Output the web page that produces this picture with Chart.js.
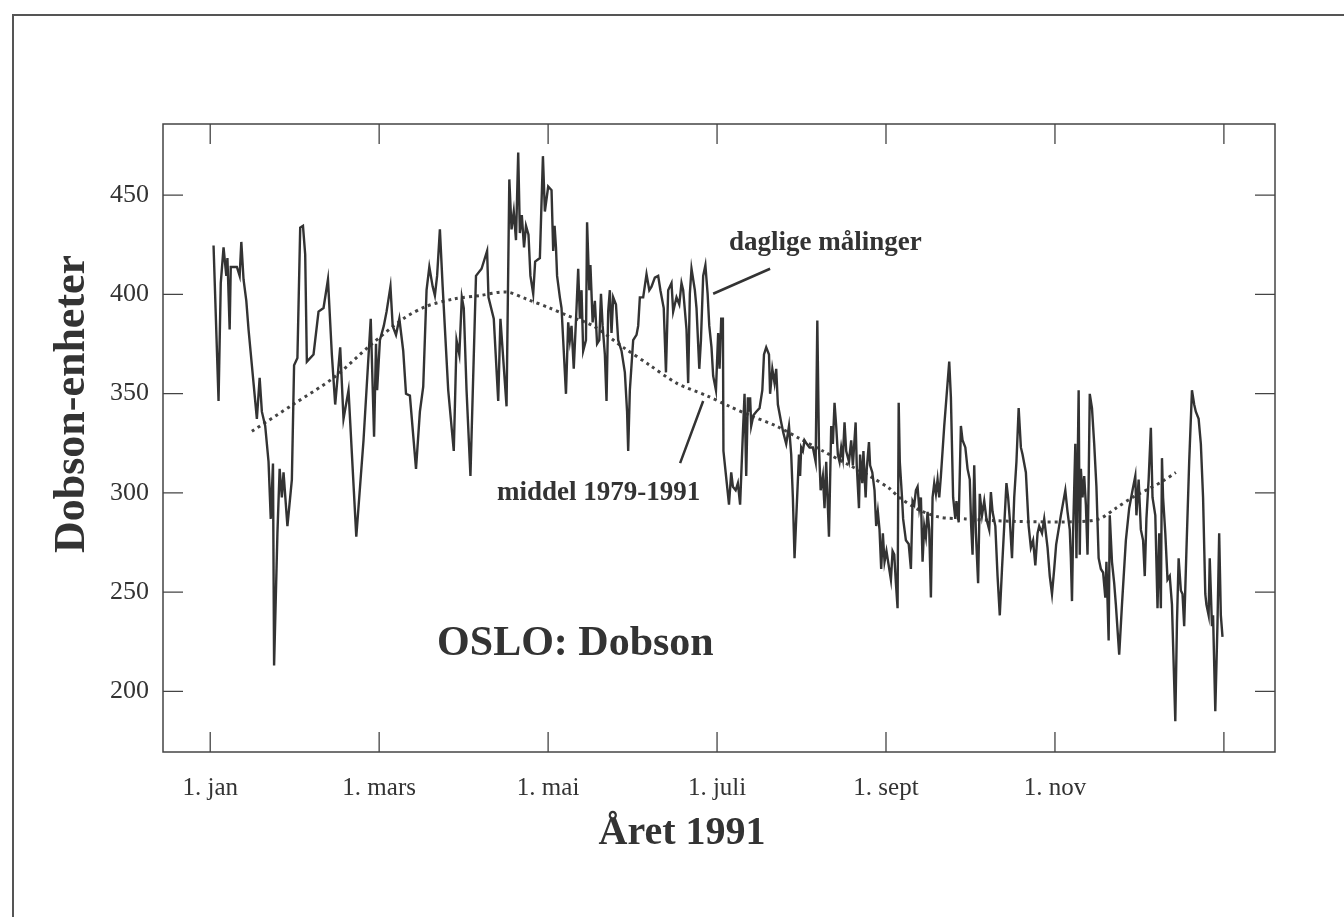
<!DOCTYPE html>
<html>
<head>
<meta charset="utf-8">
<script src="https://cdn.jsdelivr.net/npm/chart.js@4.4.1/dist/chart.umd.min.js"></script>
<style>
    body { margin: 0; background: #fff; }
    #frame { position: absolute; left: 12px; top: 14px; width: 1400px; height: 1000px;
             border-left: 2px solid #555; border-top: 2px solid #555; }
    #ozone { position: absolute; left: 0; top: 0; }
</style>
</head>
<body>
<div id="frame"></div>
<canvas id="ozone" width="1344" height="917"></canvas>
<script>
// day of year (0 = 1. jan) and daily Dobson values
const dailyDays = [
    1.2, 3.0, 3.8, 4.8, 5.8, 6.2, 7.0, 7.4, 9.6, 10.6, 11.2, 12.0, 13.0, 13.8, 15.6, 16.8, 17.8, 18.6, 19.8, 21.0,
    21.8, 22.6, 23.0, 24.2, 25.0, 25.8, 26.4, 27.8, 29.4, 30.2, 31.4, 32.4, 33.4, 34.2, 34.8, 37.2, 39.0, 40.8, 42.4, 43.8,
    45.0, 46.8, 48.0, 49.8, 52.6, 55.2, 57.8, 59.0, 59.7, 60.1, 61.1, 62.5, 63.5, 64.9, 65.7, 66.9, 68.1, 69.5, 70.5, 71.9,
    74.1, 75.5, 76.7, 77.9, 78.9, 80.1, 80.9, 81.7, 82.7, 83.7, 85.7, 87.7, 88.7, 89.7, 90.6, 91.3, 92.3, 93.7, 95.7, 97.7,
    99.7, 100.2, 102.1, 103.7, 104.5, 106.7, 107.7, 108.5, 109.3, 110.1, 110.9, 111.5, 112.2, 113.0, 113.7, 114.6, 115.3, 116.3, 117.0, 118.7,
    119.8, 120.5, 121.7, 122.9, 123.5, 124.0, 124.5, 124.9, 125.9, 126.5, 127.1, 128.1, 128.9, 129.5, 130.1, 130.9, 131.9, 132.5, 133.1, 133.7,
    134.3, 135.3, 135.7, 136.5, 136.9, 137.7, 138.5, 139.3, 140.1, 140.7, 141.3, 142.1, 142.7, 143.3, 143.9, 144.5, 145.1, 146.1, 146.9, 148.1,
    149.3, 150.1, 150.5, 151.1, 152.3, 153.5, 154.1, 154.7, 155.9, 157.1, 158.1, 158.9, 160.1, 161.3, 162.1, 163.3, 164.1, 164.9, 166.1, 166.7,
    167.9, 168.9, 169.7, 170.3, 171.5, 172.1, 172.7, 173.3, 174.5, 175.1, 176.1, 176.7, 177.5, 178.3, 179.1, 179.7, 180.5, 181.1, 182.1, 182.9,
    183.4, 184.0, 184.6, 184.8, 186.0, 186.8, 187.6, 188.2, 189.2, 190.0, 190.8, 191.8, 192.4, 193.0, 193.6, 194.0, 194.4, 194.8, 195.6, 196.6,
    197.8, 198.8, 199.4, 200.2, 201.2, 201.6, 202.4, 203.2, 203.8, 204.4, 205.6, 206.4, 207.4, 208.4, 209.2, 209.8, 210.4, 211.0, 212.0, 212.4,
    212.8, 213.4, 214.0, 214.8, 215.8, 217.0, 218.0, 218.6, 219.2, 219.8, 220.6, 221.2, 221.8, 222.8, 223.6, 224.2, 224.8, 225.4, 226.0, 226.6,
    227.2, 227.8, 228.4, 229.0, 230.0, 230.8, 231.4, 232.4, 232.8, 233.6, 234.0, 234.8, 235.2, 236.0, 236.4, 237.2, 237.6, 238.4, 239.2, 239.8,
    240.4, 241.0, 241.6, 242.2, 242.8, 243.5, 245.1, 245.7, 246.3, 246.9, 247.5, 247.9, 248.3, 249.1, 249.5, 250.5, 251.5, 252.3, 252.9, 253.5,
    254.1, 254.7, 255.3, 255.9, 256.5, 257.1, 257.7, 258.3, 258.9, 259.5, 260.1, 260.7, 261.3, 261.9, 262.5, 263.1, 264.3, 265.1, 266.1, 266.7,
    267.5, 268.3, 268.7, 269.5, 270.3, 270.9, 271.9, 272.7, 273.5, 274.0, 274.5, 275.1, 275.7, 276.5, 277.1, 277.9, 278.7, 279.5, 280.5, 281.1,
    281.7, 282.7, 283.5, 284.3, 285.1, 285.9, 286.7, 287.3, 287.9, 288.7, 289.5, 290.3, 291.1, 291.9, 292.5, 293.7, 294.7, 295.5, 296.3, 297.1,
    297.9, 298.5, 299.5, 300.3, 301.5, 302.3, 303.1, 303.9, 304.6, 306.3, 307.9, 308.7, 309.5, 309.9, 310.3, 310.7, 311.5, 311.9, 312.7, 313.1,
    313.5, 314.1, 314.7, 315.3, 315.9, 316.3, 316.7, 317.5, 318.3, 319.1, 319.9, 320.7, 321.5, 322.3, 322.7, 323.5, 323.9, 324.7, 325.5, 326.1,
    327.3, 328.3, 329.7, 330.9, 332.1, 333.1, 333.5, 334.3, 335.1, 335.9, 336.5, 337.1, 337.9, 338.7, 339.3, 340.3, 341.1, 341.7, 342.3, 342.7,
    343.1, 343.9, 344.7, 345.5, 346.3, 346.7, 347.5, 348.1, 348.7, 349.5, 350.1, 350.7, 351.5, 352.5, 353.5, 354.3, 354.9, 355.9, 356.7, 357.5,
    358.3, 358.7, 359.5, 359.9, 360.7, 361.1, 361.9, 362.7, 363.3, 363.9, 364.5
];
const dailyValues = [
    424.6, 346.3, 405.7, 423.7, 409.3, 418.3, 382.3, 413.8, 413.8, 409.3, 426.4, 407.5, 396.7, 382.3, 355.3, 337.3, 358.0, 340.9, 333.7, 315.7,
    286.9, 314.8, 213.1, 279.7, 312.1, 297.7, 310.3, 283.3, 306.7, 364.3, 367.9, 433.6, 434.5, 420.1, 366.1, 369.7, 391.3, 393.1, 407.5, 369.7,
    344.5, 373.3, 337.3, 351.7, 277.9, 326.5, 387.7, 328.3, 375.1, 351.7, 376.9, 384.1, 391.3, 403.9, 384.1, 379.6, 387.7, 371.5, 349.9, 349.0,
    312.1, 340.9, 353.5, 402.1, 413.8, 403.9, 399.4, 409.3, 432.7, 403.9, 351.7, 321.1, 376.9, 369.7, 398.5, 393.1, 351.7, 308.5, 409.3, 412.9,
    421.9, 398.5, 387.7, 346.3, 387.7, 343.6, 457.9, 432.7, 441.7, 427.3, 471.4, 430.9, 439.9, 423.7, 434.5, 430.0, 409.3, 400.3, 416.5, 418.3,
    469.6, 441.7, 454.3, 452.5, 421.9, 434.5, 423.7, 409.3, 398.5, 393.1, 376.9, 349.9, 385.9, 376.9, 384.1, 362.5, 393.1, 412.9, 387.7, 402.1,
    371.5, 376.9, 436.3, 402.1, 414.7, 385.9, 396.7, 375.1, 376.9, 400.3, 384.1, 369.7, 346.3, 391.3, 402.1, 380.5, 398.5, 394.9, 376.9, 371.5,
    360.7, 340.9, 321.1, 351.7, 376.9, 379.6, 384.1, 398.5, 398.5, 410.2, 402.1, 403.9, 408.4, 409.3, 402.1, 393.1, 360.7, 402.1, 405.7, 391.3,
    398.5, 394.9, 405.7, 402.1, 382.3, 355.3, 400.3, 412.9, 402.1, 393.1, 362.5, 376.9, 409.3, 414.7, 400.3, 384.1, 373.3, 358.9, 351.7, 380.5,
    362.5, 387.7, 387.7, 321.1, 304.9, 294.1, 310.3, 303.1, 301.3, 304.9, 294.1, 330.1, 349.9, 308.5, 348.1, 340.9, 348.1, 333.7, 339.1, 340.9,
    342.7, 351.7, 369.7, 373.3, 369.7, 349.9, 362.5, 355.3, 362.5, 344.5, 335.5, 330.1, 324.7, 333.7, 319.3, 297.7, 267.1, 286.9, 319.3, 308.5,
    322.9, 321.1, 326.5, 324.7, 322.9, 322.9, 315.7, 386.8, 322.9, 301.3, 308.5, 292.3, 315.7, 277.9, 333.7, 324.7, 345.4, 333.7, 319.3, 315.7,
    322.9, 317.5, 335.5, 321.1, 315.7, 326.5, 313.9, 335.5, 313.9, 292.3, 319.3, 304.9, 321.1, 297.7, 312.1, 325.6, 313.9, 310.3, 301.3, 283.3,
    290.5, 281.5, 261.7, 279.7, 265.3, 270.7, 256.3, 270.7, 268.9, 254.5, 241.9, 345.4, 315.7, 297.7, 286.9, 276.1, 274.3, 261.7, 295.9, 294.1,
    301.3, 303.1, 292.3, 297.7, 265.3, 283.3, 277.9, 290.5, 281.5, 247.3, 297.7, 304.9, 299.5, 306.7, 297.7, 308.5, 333.7, 348.1, 366.1, 348.1,
    297.7, 286.9, 295.9, 285.1, 333.7, 326.5, 322.9, 312.1, 306.7, 283.3, 268.9, 313.9, 279.7, 254.5, 299.5, 288.7, 295.9, 286.9, 281.5, 300.4,
    290.5, 283.3, 258.1, 238.3, 261.7, 283.3, 304.9, 297.7, 286.9, 267.1, 297.7, 315.7, 342.7, 322.9, 319.3, 310.3, 283.3, 272.5, 276.1, 263.5,
    279.7, 283.3, 279.7, 286.9, 272.5, 258.1, 249.1, 261.7, 274.0, 288.7, 301.3, 290.5, 281.5, 267.1, 245.5, 279.7, 324.7, 267.1, 351.7, 268.9,
    312.1, 297.7, 308.5, 294.1, 268.9, 304.9, 349.9, 342.7, 324.7, 303.1, 267.1, 261.7, 259.9, 247.3, 265.3, 225.7, 288.7, 265.3, 254.5, 243.7,
    218.5, 243.7, 276.1, 292.3, 301.3, 308.5, 288.7, 306.7, 281.5, 276.1, 258.1, 286.9, 306.7, 332.8, 297.7, 288.7, 241.9, 279.7, 241.9, 317.5,
    297.7, 279.7, 256.3, 258.1, 243.7, 223.9, 185.0, 234.7, 267.1, 250.9, 249.1, 232.9, 270.7, 315.7, 351.7, 344.5, 340.9, 337.3, 324.7, 297.7,
    249.1, 243.7, 238.3, 267.1, 232.9, 238.3, 190.0, 234.7, 279.7, 238.3, 227.5
];

// smoothed mean 1979-1991
const meanDays = [15.0, 29.8, 44.4, 57.5, 69.5, 77.9, 87.5, 97.1, 106.7, 113.9, 122.3, 128.3, 137.9, 148.7, 158.3, 167.9, 178.7,
    187.0, 194.2, 203.8, 212.2, 220.6, 229.0, 237.4, 244.6, 248.1, 255.3, 262.5, 272.1, 282.9, 294.9, 311.7, 320.1, 326.1,
    332.1, 338.1, 342.9, 347.7];
const meanValues = [331.0, 344.5, 358.0, 374.2, 387.7, 394.0, 397.6, 399.4, 401.2, 397.6, 393.1, 389.5, 384.1, 373.3, 364.3, 355.3, 349.0,
    343.6, 339.1, 333.7, 327.4, 321.1, 314.8, 308.5, 302.2, 297.7, 291.4, 287.8, 286.9, 286.0, 285.5, 285.5, 286.9, 292.3,
    297.7, 302.2, 305.8, 310.3];

const tickDays = [0, 60.83, 121.67, 182.5, 243.33, 304.17, 365];
const tickLabels = ['1. jan', '1. mars', '1. mai', '1. juli', '1. sept', '1. nov', ''];
const yTickValues = [200, 250, 300, 350, 400, 450];

const inkColor = '#333';
const serif = '"Liberation Serif", "Times New Roman", serif';

// annotation anchors in data units
const notes = [
    {text: 'daglige målinger', x: 186.8, y: 422.3, size: 27},
    {text: 'middel 1979-1991', x: 103.3, y: 296.3, size: 27},
    {text: 'OSLO: Dobson', x: 81.7, y: 218.2, size: 42}
];
const leaders = [
    [181.1, 400.3, 201.6, 412.9],
    [169.2, 315.0, 177.5, 346.3]
];

const framePlugin = {
    id: 'frame',
    afterDraw(chart) {
        const {ctx, chartArea: a, scales: {x, y}} = chart;
        ctx.save();
        ctx.strokeStyle = '#444';
        ctx.lineWidth = 1.5;
        ctx.strokeRect(a.left, a.top, a.right - a.left, a.bottom - a.top);
        // inward tick marks on all four sides
        ctx.lineWidth = 1.3;
        ctx.beginPath();
        tickDays.forEach(d => {
            const px = x.getPixelForValue(d);
            ctx.moveTo(px, a.bottom); ctx.lineTo(px, a.bottom - 20);
            ctx.moveTo(px, a.top); ctx.lineTo(px, a.top + 20);
        });
        yTickValues.forEach(v => {
            const py = y.getPixelForValue(v);
            ctx.moveTo(a.left, py); ctx.lineTo(a.left + 20, py);
            ctx.moveTo(a.right, py); ctx.lineTo(a.right - 20, py);
        });
        ctx.stroke();

        ctx.strokeStyle = '#333';
        ctx.lineWidth = 2.5;
        ctx.beginPath();
        leaders.forEach(l => {
            ctx.moveTo(x.getPixelForValue(l[0]), y.getPixelForValue(l[1]));
            ctx.lineTo(x.getPixelForValue(l[2]), y.getPixelForValue(l[3]));
        });
        ctx.stroke();

        ctx.fillStyle = inkColor;
        ctx.textBaseline = 'alphabetic';
        notes.forEach(n => {
            ctx.font = `bold ${n.size}px ${serif}`;
            ctx.fillText(n.text, x.getPixelForValue(n.x), y.getPixelForValue(n.y));
        });

        // axis titles (placed off-centre like the original)
        ctx.textAlign = 'center';
        ctx.textBaseline = 'middle';
        ctx.font = `bold 40px ${serif}`;
        ctx.fillText('Året 1991', 682, 834);
        ctx.translate(73, 404);
        ctx.rotate(-Math.PI / 2);
        ctx.font = `bold 44px ${serif}`;
        ctx.fillText('Dobson-enheter', 0, 0);
        ctx.restore();
    }
};

const ctx = document.getElementById('ozone').getContext('2d');
new Chart(ctx, {
    type: 'line',
    data: {
        datasets: [
            {
                label: 'daglige målinger',
                data: dailyDays.map((d, i) => ({x: d, y: dailyValues[i]})),
                borderColor: '#333',
                borderWidth: 2.4,
                pointRadius: 0,
                tension: 0
            },
            {
                label: 'middel 1979-1991',
                data: meanDays.map((d, i) => ({x: d, y: meanValues[i]})),
                borderColor: '#444',
                borderWidth: 3,
                borderDash: [3, 4],
                pointRadius: 0,
                tension: 0.3
            }
        ]
    },
    options: {
        responsive: false,
        animation: false,
        layout: {padding: {left: 44, top: 124, right: 69, bottom: 53}},
        scales: {
            x: {
                type: 'linear',
                min: -17,
                max: 383.4,
                grid: {display: false, drawTicks: false},
                border: {display: false},
                afterBuildTicks: s => { s.ticks = tickDays.map(v => ({value: v})); },
                afterFit: s => { s.height = 112; },
                ticks: {
                    autoSkip: false,
                    maxRotation: 0,
                    padding: 21,
                    color: inkColor,
                    font: {family: serif, size: 25},
                    callback: (v, i) => tickLabels[i]
                }
            },
            y: {
                min: 169.5,
                max: 485.8,
                grid: {display: false, drawTicks: false},
                border: {display: false},
                afterBuildTicks: s => { s.ticks = yTickValues.map(v => ({value: v})); },
                afterFit: s => { s.width = 119; },
                ticks: {
                    padding: 14,
                    color: inkColor,
                    font: {family: serif, size: 26}
                }
            }
        },
        plugins: {
            legend: {display: false},
            tooltip: {enabled: false}
        }
    },
    plugins: [framePlugin]
});
</script>
</body>
</html>
